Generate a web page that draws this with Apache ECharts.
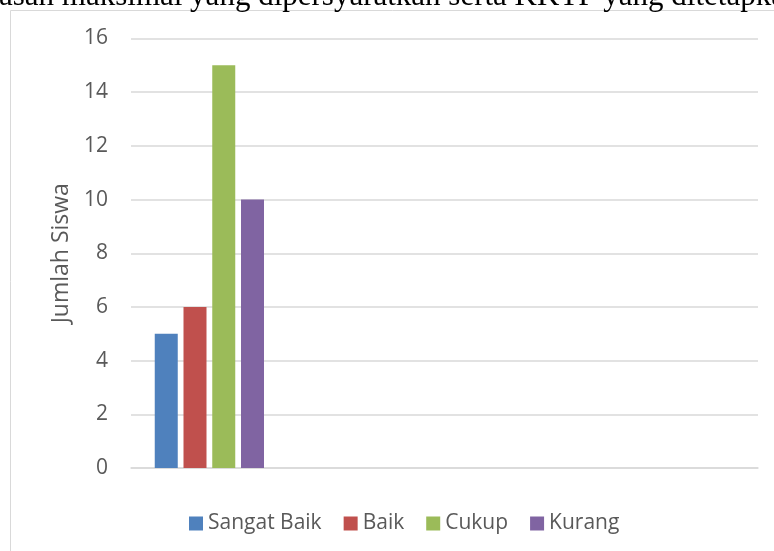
<!DOCTYPE html>
<html>
<head>
<meta charset="utf-8">
<script src="https://cdn.jsdelivr.net/npm/echarts@6/dist/echarts.min.js"></script>
<style>html,body{margin:0;padding:0;background:#fff}#c{width:774px;height:551px}</style>
</head>
<body>
<div id="c"></div>
<script>
var categories = ['1', '2', '3', '4'];
var seriesNames = ['Sangat Baik', 'Baik', 'Cukup', 'Kurang'];
var sangatBaik = [5, null, null, null];
var baik = [6, null, null, null];
var cukup = [15, null, null, null];
var kurang = [10, null, null, null];
var yTicks = [0, 2, 4, 6, 8, 10, 12, 14, 16];
var headText = 'asan maksimal yang dipersyaratkan serta KKTP yang ditetapkan';

var colors = ['#4f81bd', '#c0504d', '#9bbb59', '#8064a2'];
var values = [sangatBaik, baik, cukup, kurang];
var font = 'Open Sans';

var chart = echarts.init(document.getElementById('c'), null, {renderer: 'canvas'});
chart.setOption({
  animation: false,
  textStyle: {fontFamily: font},
  graphic: [
    {type: 'rect', shape: {x: 10.5, y: 10.5, width: 900, height: 700}, style: {fill: 'none', stroke: '#d9d9d9', lineWidth: 1}, z: -1},
    {type: 'text', left: -1, top: -19, style: {text: headText, font: '31px "Liberation Serif"', fill: '#000'}}
  ],
  grid: {left: 131, right: 16, top: 38.5, bottom: 83, containLabel: false},
  legend: {
    left: 189, top: 513, padding: 0,
    itemWidth: 14, itemHeight: 14, itemGap: 22,
    icon: 'rect',
    textStyle: {fontFamily: font, fontSize: 21, color: '#595959'},
    data: seriesNames
  },
  xAxis: {
    type: 'category', data: categories,
    axisLine: {show: true, lineStyle: {color: '#d9d9d9', width: 1.5}},
    axisTick: {show: false}, axisLabel: {show: false}
  },
  yAxis: {
    type: 'value', min: yTicks[0], max: yTicks[yTicks.length - 1], interval: 2,
    name: 'Jumlah Siswa', nameLocation: 'middle', nameGap: 56,
    nameTextStyle: {fontFamily: font, fontSize: 23, color: '#595959'},
    axisLine: {show: false}, axisTick: {show: false},
    axisLabel: {fontFamily: font, fontSize: 21, color: '#595959', margin: 23},
    splitLine: {lineStyle: {color: '#d9d9d9', width: 1.5}}
  },
  series: seriesNames.map(function (n, i) {
    return {
      name: n, type: 'bar', data: values[i], barWidth: 23, barGap: '25%',
      itemStyle: {color: colors[i]}
    };
  })
});
</script>
</body>
</html>
